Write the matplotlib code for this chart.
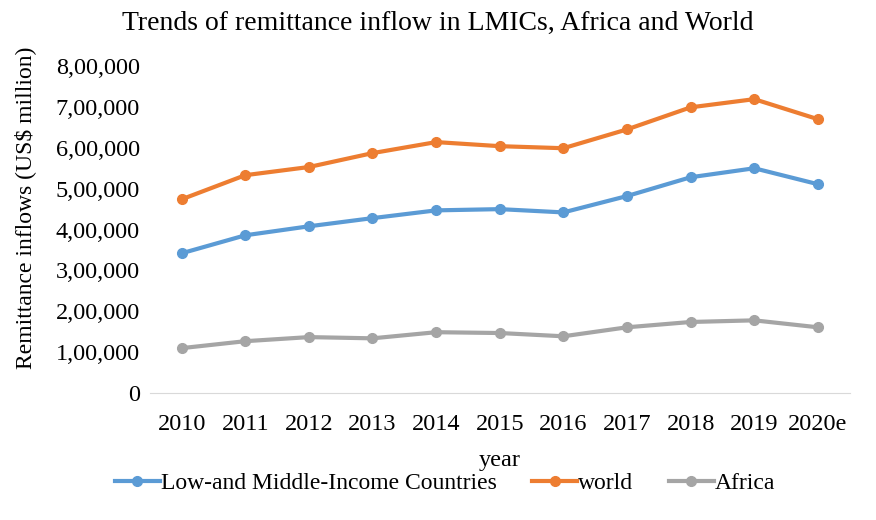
import matplotlib
matplotlib.use("Agg")
import matplotlib.pyplot as plt
from matplotlib.ticker import FuncFormatter

years = ["2010", "2011", "2012", "2013", "2014", "2015", "2016", "2017", "2018", "2019", "2020e"]
lmic = [342000, 386000, 408000, 428000, 447000, 450000, 442000, 482000, 528000, 550000, 511000]
world = [474000, 533000, 553000, 587000, 614000, 604000, 599000, 645000, 699000, 719000, 670000]
africa = [110000, 127000, 137000, 134000, 149000, 147000, 139000, 161000, 174000, 178000, 161000]

plt.rcParams['font.family'] = ['Liberation Serif', 'DejaVu Serif']


def indian_fmt(v, pos):
    n = int(round(v))
    if n == 0:
        return "0"
    s = str(n)
    last3 = s[-3:]
    rest = s[:-3]
    parts = []
    while len(rest) > 2:
        parts.insert(0, rest[-2:])
        rest = rest[:-2]
    if rest:
        parts.insert(0, rest)
    return ",".join(parts + [last3])


fig = plt.figure(figsize=(8.76, 5.2), dpi=100)
ax = fig.add_axes([0.171, 0.244, 0.799, 0.629])

x = range(len(years))
ax.plot(x, lmic, color="#5B9BD5", lw=3, marker="o", ms=7, label="Low-and Middle-Income Countries")
ax.plot(x, world, color="#ED7D31", lw=3, marker="o", ms=7, label="world")
ax.plot(x, africa, color="#A5A5A5", lw=3, marker="o", ms=7, label="Africa")

ax.set_xlim(-0.5, len(years) - 0.5)
ax.set_ylim(0, 800000)
ax.set_yticks(range(0, 800001, 100000))
ax.yaxis.set_major_formatter(FuncFormatter(indian_fmt))
ax.set_xticks(list(x))
ax.set_xticklabels(years)
ax.tick_params(axis="both", length=0, labelsize=17.5, colors="black")
ax.tick_params(axis="x", pad=15)
ax.tick_params(axis="y", pad=7)

for sp in ["top", "right", "left"]:
    ax.spines[sp].set_visible(False)
ax.spines["bottom"].set_color("#D9D9D9")

ax.set_xlabel("year", fontsize=17.5, labelpad=11)
ax.set_ylabel("Remittance inflows (US$ million)", fontsize=17)
ax.yaxis.set_label_coords(-0.163, 0.566)
fig.text(0.5, 0.955, "Trends of remittance inflow in LMICs, Africa and World",
         ha="center", va="center", fontsize=20)

fig.legend(loc="center", bbox_to_anchor=(0.508, 0.07), ncol=3, frameon=False,
           fontsize=17, handlelength=1.9, columnspacing=1.5, handletextpad=0.05)

fig.savefig("out.png", dpi=100)
